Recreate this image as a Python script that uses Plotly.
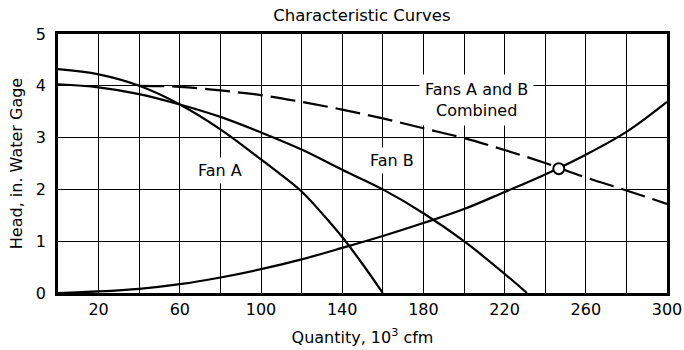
import plotly.graph_objects as go

# Data
fan_a_x = [0, 20, 40, 60, 80, 100, 110, 120, 130, 140, 150, 160]
fan_a_y = [4.32, 4.22, 4.0, 3.64, 3.16, 2.58, 2.28, 1.96, 1.54, 1.08, 0.56, 0.0]

fan_b_x = [0, 20, 40, 60, 80, 100, 120, 140, 160, 180, 200, 220, 231]
fan_b_y = [4.03, 3.97, 3.84, 3.64, 3.40, 3.10, 2.77, 2.38, 2.0, 1.54, 1.0, 0.37, 0.0]

comb_x = [40, 60, 80, 100, 120, 140, 160, 180, 200, 220, 240, 260, 280, 300]
comb_y = [4.0, 3.98, 3.91, 3.82, 3.69, 3.54, 3.37, 3.18, 2.99, 2.76, 2.51, 2.23, 1.98, 1.72]

sys_x = [0, 20, 40, 60, 80, 100, 120, 140, 160, 180, 200, 220, 240, 260, 280, 300]
sys_y = [0, 0.03, 0.08, 0.17, 0.30, 0.46, 0.65, 0.87, 1.1, 1.35, 1.62, 1.95, 2.29, 2.67, 3.11, 3.69]

op_x = [246.7]
op_y = [2.40]

x_ticks = [20, 60, 100, 140, 180, 220, 260, 300]
y_ticks = [0, 1, 2, 3, 4, 5]

FONT = "DejaVu Sans"
line = dict(color="black", width=2.2)

fig = go.Figure()
fig.add_trace(go.Scatter(x=sys_x, y=sys_y, mode="lines", line=dict(shape="spline", **line)))
fig.add_trace(go.Scatter(x=fan_a_x, y=fan_a_y, mode="lines", line=dict(shape="spline", **line)))
fig.add_trace(go.Scatter(x=fan_b_x, y=fan_b_y, mode="lines", line=dict(shape="spline", **line)))
fig.add_trace(go.Scatter(x=comb_x, y=comb_y, mode="lines",
                         line=dict(shape="spline", dash="25px,8px", color="black", width=2.2)))
fig.add_trace(go.Scatter(x=op_x, y=op_y, mode="markers",
                         marker=dict(size=11, color="white", line=dict(color="black", width=2))))

ann_font = dict(family=FONT, size=16, color="black")
fig.add_annotation(x=80, y=2.36, text="Fan A", showarrow=False, font=ann_font,
                   bgcolor="white", borderpad=3)
fig.add_annotation(x=164.4, y=2.55, text="Fan B", showarrow=False, font=ann_font,
                   bgcolor="white", borderpad=3)
fig.add_annotation(x=206.4, y=3.72, text="Fans A and B<br>Combined", showarrow=False,
                   font=ann_font, bgcolor="white", borderpad=5)

fig.update_layout(
    width=684, height=350,
    margin=dict(l=58, r=17, t=34, b=57),
    paper_bgcolor="white", plot_bgcolor="white",
    showlegend=False,
    font=dict(family=FONT, size=16, color="black"),
    title=dict(text="Characteristic Curves", x=0.529, xref="container", xanchor="center",
               y=1 - 15 / 350, yref="container", yanchor="middle",
               font=dict(family=FONT, size=16.5, color="black")),
)
fig.update_xaxes(
    range=[0, 300], tickvals=x_ticks, ticks="", automargin=False,
    showgrid=True, gridcolor="black", gridwidth=1.3, zeroline=False,
    minor=dict(tick0=0, dtick=20, showgrid=True, gridcolor="black", gridwidth=1.3),
    showline=True, mirror=True, linecolor="black", linewidth=2.5,
    title=dict(text="Quantity, 10<sup>3</sup> cfm", standoff=14,
               font=dict(family=FONT, size=16, color="black")),
    tickfont=dict(size=16),
)
fig.update_yaxes(
    range=[0, 5], tickvals=y_ticks, ticks="", automargin=False,
    showgrid=True, gridcolor="black", gridwidth=1.3, zeroline=False,
    showline=True, mirror=True, linecolor="black", linewidth=2.5,
    ticklabelstandoff=6,
    title=dict(text="Head, in. Water Gage", standoff=10,
               font=dict(family=FONT, size=16, color="black")),
    tickfont=dict(size=16),
)

fig.write_html("out.html")
